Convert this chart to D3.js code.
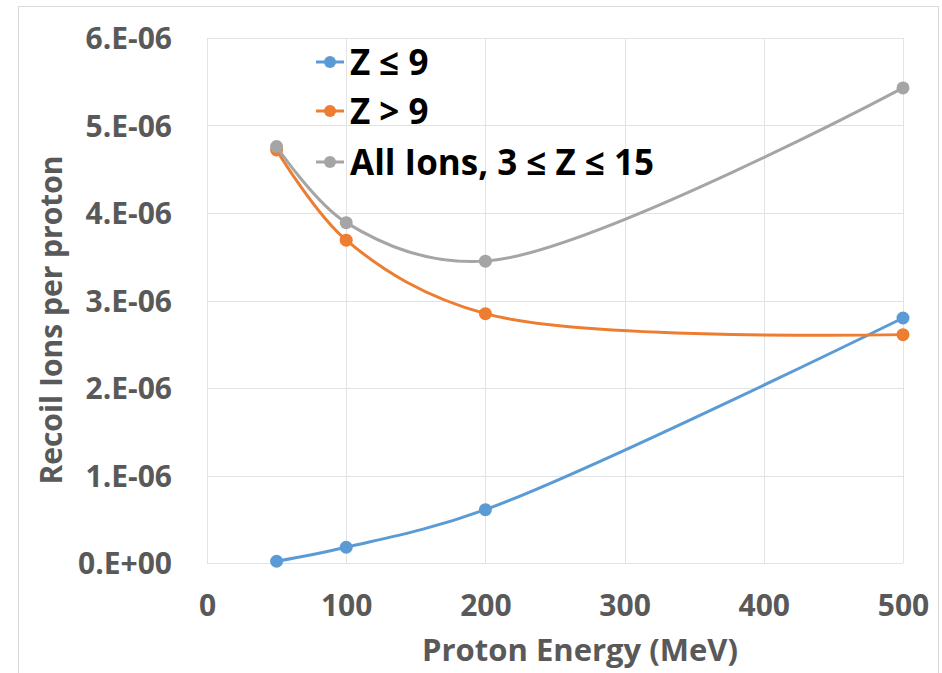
<!DOCTYPE html>
<html><head><meta charset="utf-8">
<script src="https://cdn.jsdelivr.net/npm/d3@7"></script>
<style>body{margin:0;background:#fff}svg{display:block}</style>
</head><body>
<svg id="c" width="942" height="673"></svg>
<script>
const energies = [50, 100, 200, 500];
const seriesNames = ["Z \u2264 9", "Z > 9", "All Ions, 3 \u2264 Z \u2264 15"];
const zLow = [0.02e-6, 0.18e-6, 0.61e-6, 2.80e-6];
const zHigh = [4.72e-6, 3.69e-6, 2.85e-6, 2.61e-6];
const allIons = [4.76e-6, 3.89e-6, 3.45e-6, 5.43e-6];
const seriesColors = ["#5B9BD5", "#ED7D31", "#A5A5A5"];
const xTicks = [0, 100, 200, 300, 400, 500];
const yTicks = [0, 1e-6, 2e-6, 3e-6, 4e-6, 5e-6, 6e-6];
const yTickLabels = ["0.E+00", "1.E-06", "2.E-06", "3.E-06", "4.E-06", "5.E-06", "6.E-06"];
const xTitle = "Proton Energy (MeV)";
const yTitle = "Recoil Ions per proton";

const svg = d3.select("#c");
const font = "'Open Sans', Lato, sans-serif";
const m = {l: 207, r: 903, t: 38, b: 563};
const x = d3.scaleLinear().domain([0, 500]).range([m.l, m.r]);
const y = d3.scaleLinear().domain([0, 6e-6]).range([m.b, m.t]);

// outer frame
svg.append("rect").attr("x", 18.5).attr("y", 6.5).attr("width", 920).attr("height", 670)
  .attr("fill", "#fff").attr("stroke", "#D9D9D9").attr("stroke-width", 1);

// gridlines
svg.append("g").selectAll("line").data(yTicks).join("line")
  .attr("x1", m.l).attr("x2", m.r).attr("y1", d => Math.round(y(d)) + 0.5).attr("y2", d => Math.round(y(d)) + 0.5)
  .attr("stroke", "#E3E3E3").attr("stroke-width", 1);
svg.append("g").selectAll("line").data(xTicks).join("line")
  .attr("y1", m.t).attr("y2", m.b).attr("x1", d => Math.round(x(d)) + 0.5).attr("x2", d => Math.round(x(d)) + 0.5)
  .attr("stroke", "#E3E3E3").attr("stroke-width", 1);

// axes
const yAxis = d3.axisLeft(y).tickValues(yTicks).tickSize(0).tickPadding(0)
  .tickFormat((d, i) => yTickLabels[i]);
const gy = svg.append("g").attr("transform", `translate(172,0)`).call(yAxis);
gy.select(".domain").remove();
gy.selectAll("text").attr("font-family", font).attr("font-weight", "bold")
  .attr("font-size", 30).attr("fill", "#595959").attr("dy", "0.36em");

const xAxis = d3.axisBottom(x).tickValues(xTicks).tickSize(0).tickPadding(0);
const gx = svg.append("g").attr("transform", `translate(0,595)`).call(xAxis);
gx.select(".domain").remove();
gx.selectAll("text").attr("font-family", font).attr("font-weight", "bold")
  .attr("font-size", 30).attr("fill", "#595959").attr("dy", "0.71em");

// titles
svg.append("text").attr("x", 580).attr("y", 661).attr("text-anchor", "middle")
  .attr("font-family", font).attr("font-weight", "bold").attr("font-size", 31).attr("fill", "#595959")
  .text(xTitle);
svg.append("text").attr("transform", `translate(62,320) rotate(-90)`).attr("text-anchor", "middle")
  .attr("font-family", font).attr("font-weight", "bold").attr("font-size", 30).attr("fill", "#595959")
  .text(yTitle);

// series
const seriesData = [zLow, zHigh, allIons];
const line = d3.line().x((d, i) => x(energies[i])).y(d => y(d)).curve(d3.curveCatmullRom.alpha(0.5));
seriesData.forEach((vals, k) => {
  const g = svg.append("g");
  g.append("path").attr("d", line(vals)).attr("fill", "none")
    .attr("stroke", seriesColors[k]).attr("stroke-width", 3);
  g.selectAll("circle").data(vals).join("circle")
    .attr("cx", (d, i) => x(energies[i])).attr("cy", d => y(d)).attr("r", 6.5)
    .attr("fill", seriesColors[k]);
});

// legend
const legY = [62, 111, 162];
const lg = svg.append("g");
seriesNames.forEach((name, k) => {
  lg.append("line").attr("x1", 316).attr("x2", 344).attr("y1", legY[k]).attr("y2", legY[k])
    .attr("stroke", seriesColors[k]).attr("stroke-width", 3);
  lg.append("circle").attr("cx", 330).attr("cy", legY[k]).attr("r", 6).attr("fill", seriesColors[k]);
  lg.append("text").attr("x", 350).attr("y", legY[k]).attr("dy", "0.36em")
    .attr("font-family", font).attr("font-weight", "bold").attr("font-size", 35).attr("fill", "#000")
    .text(name);
});
</script>
</body></html>
